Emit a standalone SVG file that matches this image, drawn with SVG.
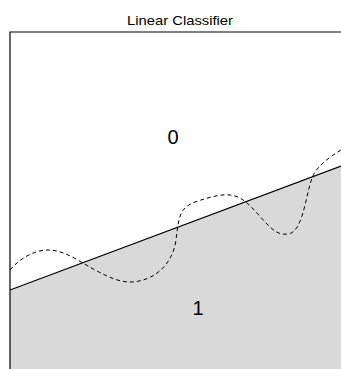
<svg xmlns="http://www.w3.org/2000/svg" width="341" height="369" viewBox="0 0 341 369">
<style>
.lbl{font-family:"Liberation Sans",Arial,sans-serif;fill:#000}
.frame{fill:none;stroke:#000;stroke-width:1.2}
</style>
<rect width="341" height="369" fill="#fff"/>
<g id="region1">
<polygon points="10,290 341,166 341,369 10,369" fill="#d9d9d9"/>
</g>
<g id="frame">
<path class="frame" d="M10,369 V32 H341"/>
</g>
<g id="connectors">
<line x1="10" y1="290" x2="341" y2="166" stroke="#000" stroke-width="1.2"/>
<path d="M10,270 C20,258 35,250 48,250 C65,250 80,262 95,270 C110,278 120,282 130,282 C150,282 172,268 176,240 C179,215 180,208 195,202 C210,197 220,194 230,195 C245,196 255,212 268,225 C275,232 280,235 288,234 C305,232 306,185 315,172 C322,162 333,155 341,150" fill="none" stroke="#000" stroke-width="1" stroke-dasharray="4,3"/>
</g>
<text class="lbl" x="127" y="25" font-size="13" textLength="106" lengthAdjust="spacingAndGlyphs">Linear Classifier</text>
<g id="label0"><text class="lbl" x="173" y="144" font-size="20" text-anchor="middle">0</text></g>
<g id="label1"><text class="lbl" x="198" y="315" font-size="20" text-anchor="middle">1</text></g>
</svg>
